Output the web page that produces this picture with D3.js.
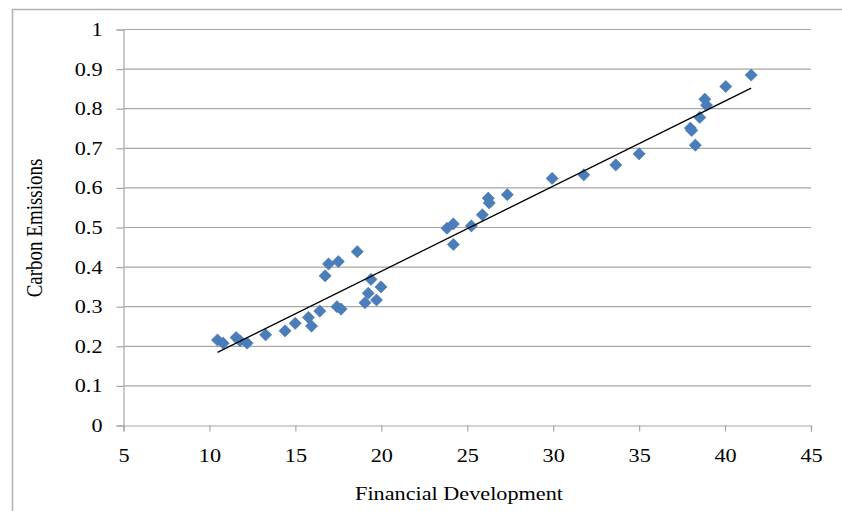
<!DOCTYPE html>
<html>
<head>
<meta charset="utf-8">
<script src="https://cdn.jsdelivr.net/npm/d3@7"></script>
<style>
  html, body { margin: 0; padding: 0; background: #fff; }
  svg { display: block; }
  text { font-family: "Liberation Serif", "Times New Roman", serif; fill: #000; }
</style>
</head>
<body>
<svg id="chart" width="842" height="511"></svg>
<script>
// Financial development vs. carbon emissions (one point per observation)
const financialDev = [
  10.47, 10.80, 11.55, 11.78, 12.19, 13.27, 14.40, 14.99, 15.76, 15.94,
  16.42, 16.73, 16.93, 17.50, 17.42, 17.66, 18.60, 19.40, 19.24, 19.05,
  19.72, 19.98, 23.82, 24.19, 24.19, 25.24, 25.88, 26.22, 26.28, 27.33,
  29.94, 31.78, 33.64, 35.00, 37.98, 38.06, 38.27, 38.53, 38.82, 38.92,
  40.04, 41.52
];
const carbonEmissions = [
  0.216, 0.208, 0.222, 0.214, 0.208, 0.229, 0.239, 0.258, 0.273, 0.251,
  0.289, 0.378, 0.408, 0.414, 0.300, 0.294, 0.439, 0.369, 0.334, 0.310,
  0.317, 0.350, 0.498, 0.509, 0.457, 0.504, 0.532, 0.574, 0.562, 0.583,
  0.624, 0.633, 0.658, 0.686, 0.751, 0.745, 0.708, 0.778, 0.824, 0.809,
  0.856, 0.885
];
const xTicks = [5, 10, 15, 20, 25, 30, 35, 40, 45];
const yTicks = [0, 0.1, 0.2, 0.3, 0.4, 0.5, 0.6, 0.7, 0.8, 0.9, 1];
const xTitle = "Financial Development";
const yTitle = "Carbon Emissions";

const svg = d3.select("#chart");
const gridColor = "#a6a6a6";
const widen = 1.17;   // horizontal stretch applied to the lettering

// outer chart frame
svg.append("rect")
  .attr("x", 12.5).attr("y", 9.5)
  .attr("width", 840).attr("height", 520)
  .attr("fill", "none").attr("stroke", "#b0b0b0").attr("stroke-width", 1.5);

const x = d3.scaleLinear().domain([5, 45]).range([123.5, 811]);
const y = d3.scaleLinear().domain([0, 1]).range([425.5, 29.5]);

// horizontal gridlines
svg.append("g").selectAll("line")
  .data(yTicks.slice(1))
  .join("line")
  .attr("x1", x(5)).attr("x2", x(45))
  .attr("y1", d => y(d)).attr("y2", d => y(d))
  .attr("stroke", gridColor).attr("stroke-width", 1.2);

// y axis
const yAxis = svg.append("g")
  .attr("transform", `translate(${x(5)},0)`)
  .call(d3.axisLeft(y).tickValues(yTicks).tickFormat(d3.format("~g")).tickSize(7).tickPadding(14));
yAxis.select(".domain").attr("stroke", gridColor).attr("stroke-width", 1.2);
yAxis.selectAll(".tick line").attr("stroke", gridColor).attr("stroke-width", 1.2);
yAxis.selectAll(".tick text")
  .attr("x", 0)
  .attr("transform", `translate(-21,0) scale(${widen},1)`)
  .style("font-family", "'Liberation Serif', serif")
  .style("font-size", "19px").attr("fill", "#000");

// x axis
const xAxis = svg.append("g")
  .attr("transform", `translate(0,${y(0)})`)
  .call(d3.axisBottom(x).tickValues(xTicks).tickFormat(d3.format("d")).tickSize(6).tickPadding(17));
xAxis.select(".domain").attr("stroke", gridColor).attr("stroke-width", 1.2);
xAxis.selectAll(".tick line").attr("stroke", gridColor).attr("stroke-width", 1.2);
xAxis.selectAll(".tick text")
  .attr("transform", `scale(${widen},1)`)
  .style("font-family", "'Liberation Serif', serif")
  .style("font-size", "19px").attr("fill", "#000");

// least-squares linear trend across the observed range
const pts = financialDev.map((v, i) => [v, carbonEmissions[i]]);
const mx = d3.mean(financialDev), my = d3.mean(carbonEmissions);
const slope = d3.sum(pts, p => (p[0] - mx) * (p[1] - my)) / d3.sum(pts, p => (p[0] - mx) ** 2);
const intercept = my - slope * mx;
const [xmin, xmax] = d3.extent(financialDev);

// markers (diamonds)
const diamond = d3.symbol().type(d3.symbolSquare).size(74);
svg.append("g").selectAll("path")
  .data(pts)
  .join("path")
  .attr("d", diamond)
  .attr("transform", d => `translate(${x(d[0])},${y(d[1])}) rotate(45)`)
  .attr("fill", "#4a7ebb")
  .attr("stroke", "#4575b0").attr("stroke-width", 0.6);

svg.append("line")
  .attr("x1", x(xmin)).attr("y1", y(intercept + slope * xmin))
  .attr("x2", x(xmax)).attr("y2", y(intercept + slope * xmax))
  .attr("stroke", "#000").attr("stroke-width", 1.3);

// axis titles
svg.append("text")
  .attr("transform", `translate(459,500) scale(${widen},1)`)
  .attr("text-anchor", "middle")
  .style("font-size", "19px")
  .text(xTitle);

svg.append("text")
  .attr("transform", `translate(42,228) scale(${widen},1) rotate(-90)`)
  .attr("text-anchor", "middle")
  .style("font-size", "19px")
  .text(yTitle);
</script>
</body>
</html>
